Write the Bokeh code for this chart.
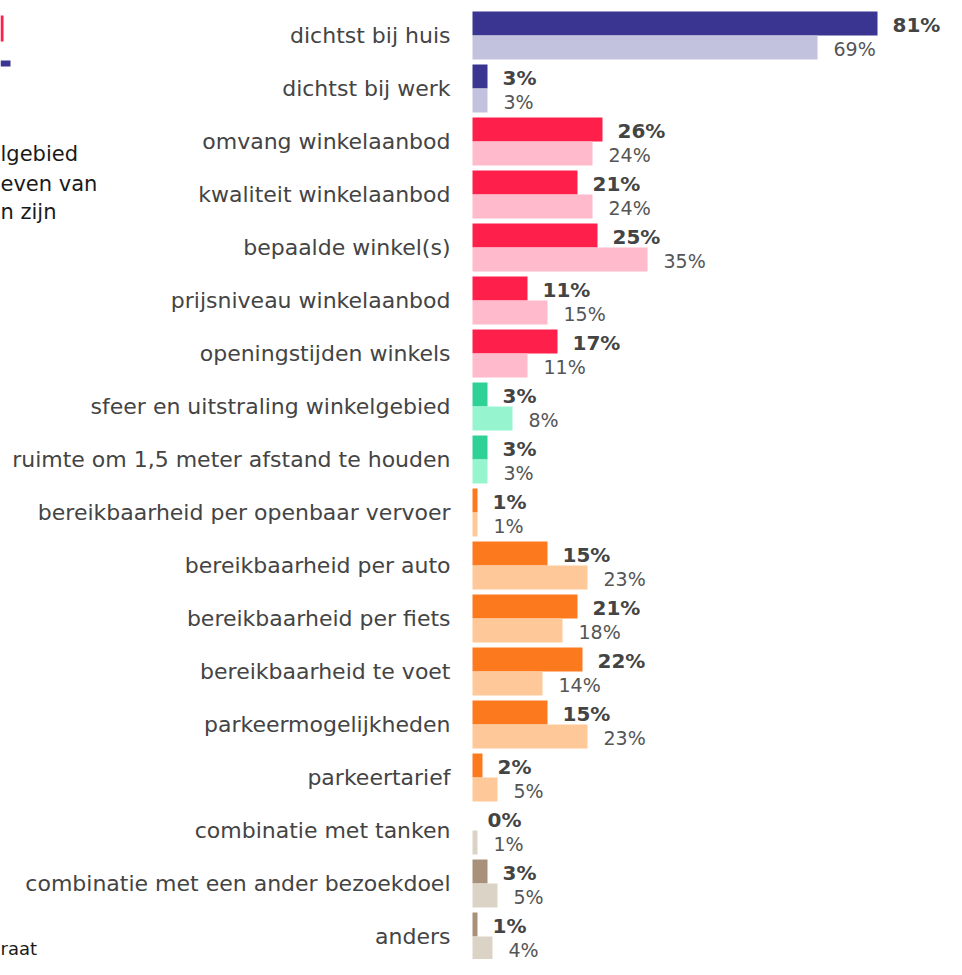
from bokeh.plotting import figure
from bokeh.models import Range1d, ColumnDataSource
from bokeh.core.properties import value
from bokeh.embed import file_html
from bokeh.resources import INLINE

categories = [
    "dichtst bij huis", "dichtst bij werk", "omvang winkelaanbod",
    "kwaliteit winkelaanbod", "bepaalde winkel(s)", "prijsniveau winkelaanbod",
    "openingstijden winkels", "sfeer en uitstraling winkelgebied",
    "ruimte om 1,5 meter afstand te houden", "bereikbaarheid per openbaar vervoer",
    "bereikbaarheid per auto", "bereikbaarheid per fiets", "bereikbaarheid te voet",
    "parkeermogelijkheden", "parkeertarief", "combinatie met tanken",
    "combinatie met een ander bezoekdoel", "anders",
]
current = [81, 3, 26, 21, 25, 11, 17, 3, 3, 1, 15, 21, 22, 15, 2, 0, 3, 1]
previous = [69, 3, 24, 24, 35, 15, 11, 8, 3, 1, 23, 18, 14, 23, 5, 1, 5, 4]
groups = ["blue", "blue", "red", "red", "red", "red", "red", "green", "green",
          "orange", "orange", "orange", "orange", "orange", "orange", "brown", "brown", "brown"]
dark_colors = {"blue": "#3A3590", "red": "#FF1F4B", "green": "#2FD196",
               "orange": "#FC791E", "brown": "#A8917A"}
light_colors = {"blue": "#C2C1DE", "red": "#FFBACB", "green": "#96F5CF",
                "orange": "#FFC898", "brown": "#DCD3C7"}
side_texts = ["lgebied", "even van", "n zijn"]
footer_text = "raat"

FONT = value("DejaVu Sans")
W, H = 946, 959
PX = 5.0            # pixels per percent
ZERO = 472          # pixel x of zero line
PITCH = 53          # pixels per row
TOP = 35            # pixel y of first row centre
BAR = 24 / PITCH

x0 = -ZERO / PX
x1 = (W - ZERO) / PX
y_top = -TOP / PITCH
y_bot = (H - TOP) / PITCH


def px_y(py):
    return (py - TOP) / PITCH


p = figure(width=W, height=H, output_backend="svg", toolbar_location=None,
           x_range=Range1d(x0, x1), y_range=Range1d(y_bot, y_top),
           min_border=0, min_border_left=0, min_border_right=0,
           min_border_top=0, min_border_bottom=0)
p.axis.visible = False
p.grid.visible = False
p.outline_line_color = None
p.background_fill_color = "white"
p.border_fill_color = "white"

rows = list(range(len(categories)))
src = ColumnDataSource(dict(
    row=rows,
    cat=categories,
    cur=current,
    prev=previous,
    dark_y=[r - BAR / 2 for r in rows],
    light_y=[r + BAR / 2 for r in rows],
    dark=[dark_colors[g] for g in groups],
    light=[light_colors[g] for g in groups],
    cur_lbl=[f"{v}%" for v in current],
    prev_lbl=[f"{v}%" for v in previous],
))

p.hbar(y="dark_y", left=0, right="cur", height=BAR, fill_color="dark",
       line_color=None, source=src)
p.hbar(y="light_y", left=0, right="prev", height=BAR, fill_color="light",
       line_color=None, source=src)

p.text(x=0, y="row", text="cat", source=src, x_offset=-22,
       text_align="right", text_baseline="middle",
       text_font=FONT, text_font_size="22px", text_color="#444444")
p.text(x="cur", y="dark_y", text="cur_lbl", source=src, x_offset=15, y_offset=1,
       text_align="left", text_baseline="middle",
       text_font=FONT, text_font_size="20px", text_font_style="bold",
       text_color="#444444")
p.text(x="prev", y="light_y", text="prev_lbl", source=src, x_offset=16, y_offset=1,
       text_align="left", text_baseline="middle",
       text_font=FONT, text_font_size="19px", text_color="#555555")

# clipped fragments on the left edge
p.text(x=[x0] * 3, y=[px_y(153), px_y(183), px_y(211)], text=side_texts,
       text_align="left", text_baseline="middle",
       text_font=FONT, text_font_size="21px", text_color="#1a1a1a")
p.text(x=[x0], y=[px_y(948)], text=[footer_text],
       text_align="left", text_baseline="middle",
       text_font=FONT, text_font_size="18px", text_color="#1a1a1a")
# title fragments
p.quad(left=[x0], right=[x0 + 3 / PX], top=[px_y(15)], bottom=[px_y(41)],
       fill_color="#FF1F4B", line_color=None)
p.quad(left=[x0], right=[x0 + 10 / PX], top=[px_y(60)], bottom=[px_y(66)],
       fill_color="#3A3590", line_color=None)

open("out.html", "w").write(file_html(p, INLINE))
